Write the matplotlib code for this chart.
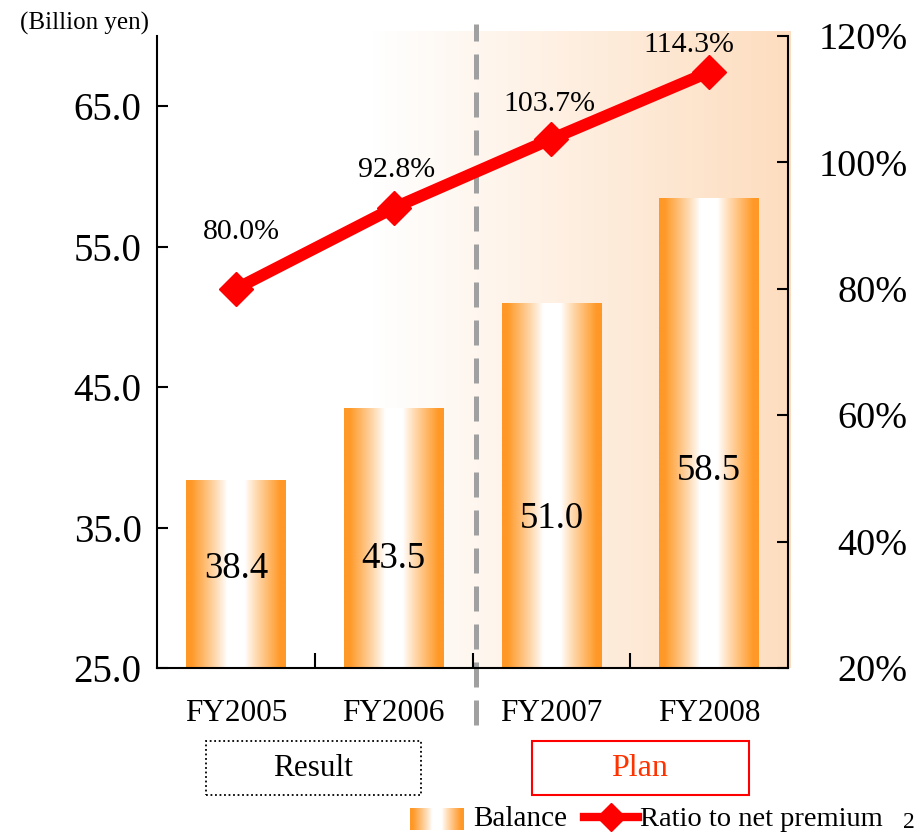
import numpy as np
import matplotlib
matplotlib.use("Agg")
import matplotlib.pyplot as plt
from matplotlib.patches import Rectangle
from matplotlib.lines import Line2D

plt.rcParams['font.family'] = ['Liberation Serif', 'DejaVu Serif']

# ---- data ----
categories = ["FY2005", "FY2006", "FY2007", "FY2008"]
balance = [38.4, 43.5, 51.0, 58.5]          # billion yen
ratio = [80.0, 92.8, 103.7, 114.3]          # % of net premium
left_ticks = [25.0, 35.0, 45.0, 55.0, 65.0]
right_ticks = [20, 40, 60, 80, 100, 120]

# ---- layout helpers ----
W, H = 923, 835
fig = plt.figure(figsize=(W / 100, H / 100), dpi=100)


def fx(px):
    return px / W


def fy(py):
    return 1 - py / H


ax = fig.add_axes([fx(157), fy(668), fx(788) - fx(157), fy(36) - fy(668)])
ax.set_xlim(-0.5, 3.5)
ax.set_ylim(25, 70)

orange = np.array([255, 152, 38]) / 255.0
white = np.array([1.0, 1.0, 1.0])


def bar_gradient(n=200):
    t = np.abs(np.linspace(-1, 1, n))
    f = np.clip((t - 0.18) / 0.72, 0, 1) ** 0.9
    row = white[None, :] + (orange - white)[None, :] * f[:, None]
    return row[None, :, :]


# background wash behind the plan years
peach = np.array([253, 221, 191]) / 255.0
s = np.linspace(0, 1, 300)
bg = (white[None, :] + (peach - white)[None, :] * s[:, None])[None, :, :]
bg_im = ax.imshow(bg, extent=[0.863, 3.513, 25, 70.3], aspect='auto',
                  interpolation='bilinear', zorder=0)
bg_im.set_clip_on(False)

# gradient-filled bars
x = np.arange(len(categories))
bars = ax.bar(x, [b - 25 for b in balance], bottom=25, width=0.63,
              facecolor='none', edgecolor='none', zorder=2)
grad = bar_gradient()
for b in bars:
    im = ax.imshow(grad, extent=[b.get_x(), b.get_x() + b.get_width(),
                                 b.get_y(), b.get_y() + b.get_height()],
                   aspect='auto', interpolation='bilinear', zorder=2)
    im.set_clip_path(b)

ax.set_xlim(-0.5, 3.5)
ax.set_ylim(25, 70)

# bar value labels
label_frac = [0.53, 0.42, 0.41, 0.42]
for xi, v, fr in zip(x, balance, label_frac):
    ax.text(xi, 25 + (v - 25) * fr, f"{v:.1f}", ha='center', va='center',
            fontsize=26.5, zorder=5)

# result / plan divider
ax.axvline(1.52, ymin=-0.09, ymax=1.019, color='#A0A0A0', lw=3.6,
           dashes=(5, 2.6), clip_on=False, zorder=1)

# axes styling
for side in ['top', 'right']:
    ax.spines[side].set_visible(False)
for side in ['left', 'bottom']:
    ax.spines[side].set_linewidth(1.5)
ax.set_yticks(left_ticks)
ax.set_yticklabels([f"{t:.1f}" for t in left_ticks])
ax.tick_params(axis='y', direction='in', length=8, width=1.5, pad=11,
               labelsize=28)
ax.set_xticks(x)
ax.set_xticklabels(categories)
ax.tick_params(axis='x', which='major', length=0, pad=22, labelsize=22.5)
ax.set_xticks([0.5, 1.5, 2.5], minor=True)
ax.tick_params(axis='x', which='minor', direction='in', length=11, width=1.5)

# ratio line on the secondary axis
ax2 = ax.twinx()
ax2.set_ylim(20, 120)
ax2.set_xlim(-0.5, 3.5)
ax2.plot(x, ratio, color='#FF0000', lw=8.5, marker='D', ms=17,
         solid_joinstyle='miter', zorder=4)
pct_offsets = [(6, 57), (3, 38), (-2, 35), (-20, 27)]  # pixel offsets of labels
for xi, r, (dx, dy) in zip(x, ratio, pct_offsets):
    ax2.annotate(f"{r:.1f}%", (xi, r), xytext=(dx * 0.72, dy * 0.72),
                 textcoords='offset points', ha='center', va='center',
                 fontsize=21.5)
for side in ['top', 'left', 'bottom']:
    ax2.spines[side].set_visible(False)
ax2.spines['right'].set_linewidth(1.5)
ax2.set_yticks(right_ticks)
ax2.set_yticklabels([f"{t}%" for t in right_ticks])
ax2.tick_params(axis='y', direction='in', length=8, width=1.5, pad=86,
                labelsize=27.5)
for lbl in ax2.get_yticklabels():
    lbl.set_horizontalalignment('right')

# unit caption
fig.text(fx(20), fy(23), "(Billion yen)", ha='left', va='center', fontsize=18)

# Result / Plan boxes
fig.add_artist(Rectangle((fx(206), fy(795)), fx(421) - fx(206), fy(741) - fy(795),
                         transform=fig.transFigure, fill=False, lw=1.3,
                         ls=(0, (1, 1.5)), edgecolor='black'))
fig.text(fx(313), fy(769), "Result", ha='center', va='center', fontsize=22.5)
fig.add_artist(Rectangle((fx(532), fy(795)), fx(749) - fx(532), fy(741) - fy(795),
                         transform=fig.transFigure, fill=False, lw=1.5,
                         edgecolor='#FF0000'))
fig.text(fx(640), fy(769), "Plan", ha='center', va='center', fontsize=23,
         color='#FF3300')

# legend
lax = fig.add_axes([fx(410), fy(830), fx(464) - fx(410), fy(808) - fy(830)])
lax.imshow(grad, aspect='auto', interpolation='bilinear')
lax.axis('off')
fig.text(fx(473), fy(819), "Balance", ha='left', va='center', fontsize=21)
fig.add_artist(Line2D([fx(584), fx(638)], [fy(817), fy(817)],
                      transform=fig.transFigure, color='#FF0000', lw=6))
fig.add_artist(Line2D([fx(611)], [fy(817)], transform=fig.transFigure,
                      color='#FF0000', marker='D', ms=14, lw=0))
fig.text(fx(640), fy(819), "Ratio to net premium", ha='left', va='center',
         fontsize=20.5)
# page number at the bottom-right corner
fig.text(fx(903), fy(833), "2", ha='left', va='bottom', fontsize=17)

fig.savefig("out.png", dpi=100)
